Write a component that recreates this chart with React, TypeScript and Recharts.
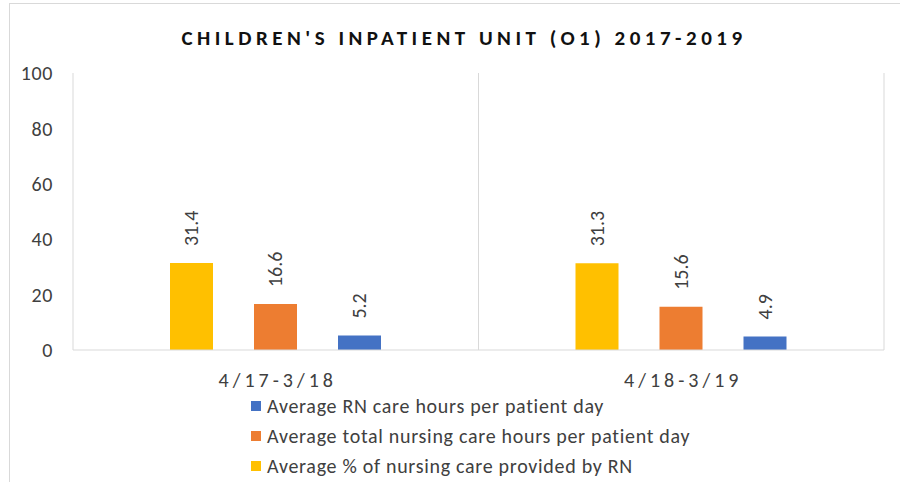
import { BarChart, Bar, XAxis, YAxis, CartesianGrid, Legend, LabelList } from 'recharts';

const categories = ['4/17-3/18', '4/18-3/19'];
const pctByRn = [31.4, 31.3];
const totalHours = [16.6, 15.6];
const rnHours = [5.2, 4.9];
const yTicks = [0, 20, 40, 60, 80, 100];

const series = [
  { key: 'pct', name: 'Average % of nursing care provided by RN', color: '#FFC000' },
  { key: 'total', name: 'Average total nursing care hours per patient day', color: '#ED7D31' },
  { key: 'rn', name: 'Average RN care hours per patient day', color: '#4472C4' },
];

const data = categories.map((c, i) => ({ cat: c, pct: pctByRn[i], total: totalHours[i], rn: rnHours[i] }));

const FONT = 'Carlito, Lato, sans-serif';
const GRID = '#d9d9d9';

function BarValue(props: any) {
  const { x, y, width, value } = props;
  const cx = x + width / 2;
  const cy = y - 17;
  return (
    <text x={cx} y={cy} transform={`rotate(-90 ${cx} ${cy})`} textAnchor="start" dominantBaseline="central"
      fontSize={20} fontFamily={FONT} fill="#404040">
      {value}
    </text>
  );
}

function CatTick(props: any) {
  const { x, y, payload } = props;
  return (
    <text x={x + 2} y={y + 19} textAnchor="middle" fontSize={20} fontFamily={FONT} fill="#404040" letterSpacing={4}>
      {payload.value}
    </text>
  );
}

function LegendBox() {
  return (
    <div style={{ fontFamily: FONT, fontSize: 20, color: '#404040', letterSpacing: 0.7 }}>
      {[...series].reverse().map((s) => (
        <div key={s.key} style={{ display: 'flex', alignItems: 'center', height: 30 }}>
          <span style={{ width: 10, height: 10, background: s.color, marginRight: 6, display: 'inline-block' }} />
          <span>{s.name}</span>
        </div>
      ))}
    </div>
  );
}

export default function App() {
  return (
    <div style={{ position: 'absolute', left: 0, top: 0, width: 900, height: 482, background: '#fff', overflow: 'hidden' }}>
      <div style={{ position: 'absolute', left: 9, top: 3, width: 900, height: 490, borderLeft: `1px solid ${GRID}`, borderTop: `1px solid ${GRID}` }} />
      <div style={{ position: 'absolute', left: 0, top: 28, width: 928, lineHeight: 1, textAlign: 'center', fontFamily: FONT, fontWeight: 800, fontSize: 21, letterSpacing: 4.5, color: '#111' }}>
        CHILDREN'S INPATIENT UNIT (O1) 2017-2019
      </div>
      <BarChart width={900} height={482} data={data} margin={{ top: 73, right: 0, bottom: 102, left: 13 }}
        barSize={43} barGap={41} style={{ position: 'absolute', left: 0, top: 0 }}>
        <CartesianGrid yAxisId="left" horizontal={false} stroke={GRID}
          verticalCoordinatesGenerator={({ offset }: any) => [offset.left + offset.width / 2]} />
        <XAxis dataKey="cat" axisLine={{ stroke: GRID }} tickLine={false} tickSize={0} tickMargin={18} tick={<CatTick />} height={30} />
        <YAxis yAxisId="left" domain={[0, 100]} ticks={yTicks} width={60} axisLine={{ stroke: GRID }} tickLine={false}
          tickSize={0} tickMargin={20} tick={{ fontSize: 20, fontFamily: FONT, fill: '#404040', letterSpacing: 0.6 }} />
        <YAxis yAxisId="right" orientation="right" domain={[0, 100]} ticks={yTicks} width={16} axisLine={{ stroke: GRID }}
          tickLine={{ stroke: GRID }} tickSize={6} tickFormatter={() => ''} />
        {series.map((s) => (
          <Bar key={s.key} yAxisId="left" dataKey={s.key} name={s.name} fill={s.color} isAnimationActive={false}>
            <LabelList dataKey={s.key} content={<BarValue />} />
          </Bar>
        ))}
        <Legend layout="vertical" align="center" verticalAlign="middle" content={<LegendBox />}
          wrapperStyle={{ left: 251, top: 391, width: 560 }} />
      </BarChart>
    </div>
  );
}
